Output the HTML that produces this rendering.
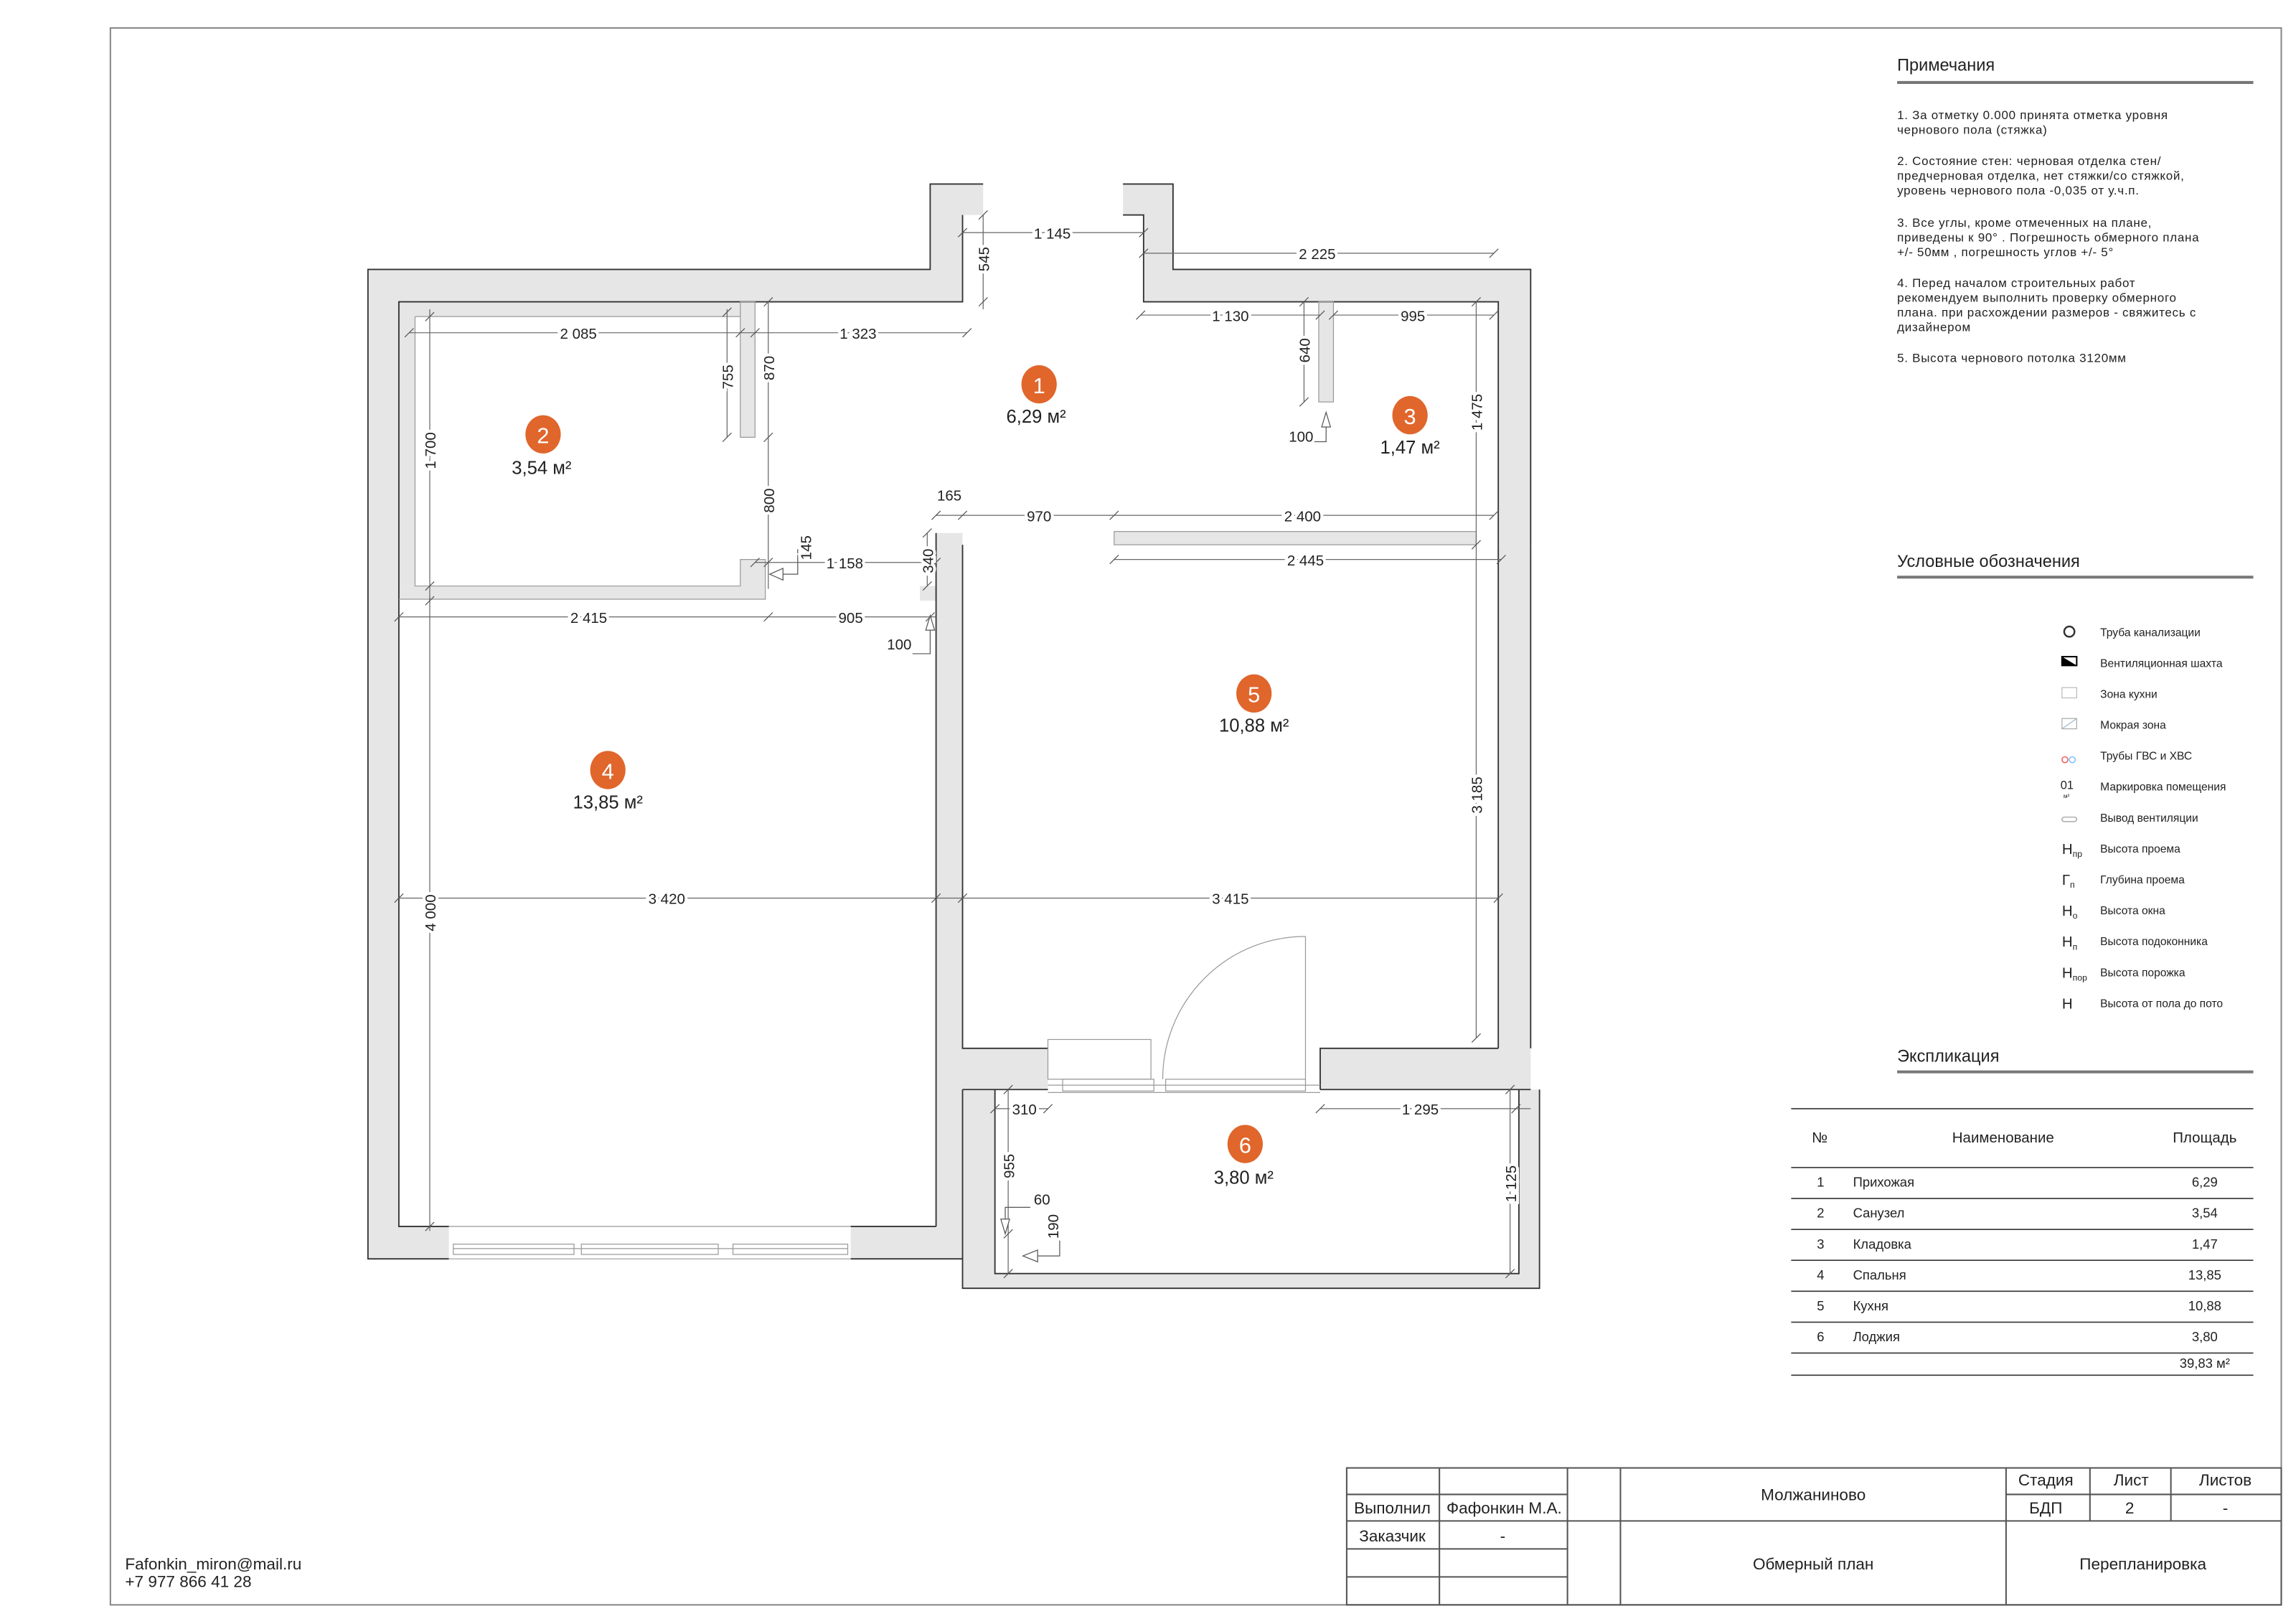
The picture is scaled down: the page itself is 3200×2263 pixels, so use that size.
<!DOCTYPE html>
<html><head><meta charset="utf-8"><style>
html,body{margin:0;padding:0;background:#fff}
svg{display:block}
text{font-family:"Liberation Sans","DejaVu Sans",sans-serif;fill:#222}
.d{stroke:#666;stroke-width:0.6;fill:none}
.t{stroke:#555;stroke-width:0.6}
.w{fill:#e6e6e6;stroke:none}
.o{stroke:#333;stroke-width:0.9;fill:none}
.dim{font-size:10px}
.n{font-size:8.3px;letter-spacing:0.35px}
.lg{font-size:7.6px}
</style></head><body>
<svg width="3200" height="2263" viewBox="0 0 1560 1103" preserveAspectRatio="none" xmlns="http://www.w3.org/2000/svg">
<rect x="75" y="19" width="1475" height="1071" fill="none" stroke="#888" stroke-width="1"/>

<polygon class="w" points="250,183 632,183 632,125 668,125 668,146 654,146 654,205 271,205 271,833 305,833 305,855 250,855"/>
<polygon class="w" points="763,125 797,125 797,183 1040,183 1040,712 1018,712 1018,205 777,205 777,146 763,146"/>
<rect class="w" x="636" y="362" width="18" height="471"/>
<rect class="w" x="578" y="833" width="76" height="22"/>
<polygon class="w" points="654,712 712,712 712,740 676,740 676,865 1032,865 1032,740 897,740 897,712 1040,712 1040,740 1046,740 1046,875 654,875"/>
<rect class="w" x="271" y="205" width="232" height="10"/>
<rect class="w" x="271" y="215" width="11" height="183"/>
<rect class="w" x="503" y="205" width="10" height="92"/>
<polygon class="w" points="271,398 503,398 503,380 520,380 520,407 271,407"/>
<rect class="w" x="625" y="398" width="11" height="10"/>
<rect class="w" x="757" y="361" width="246" height="9"/>
<rect class="w" x="896" y="205" width="10" height="68"/>
<polyline class="o" points="305,855 250,855 250,183 632,183 632,125 668,125"/>
<polyline class="o" points="654,146 654,205 271,205 271,833 305,833"/>
<polyline class="o" points="763,125 797,125 797,183 1040,183 1040,370"/>
<polyline class="o" points="763,146 777,146 777,205 1018,205 1018,370"/>
<line class="o" x1="1040" y1="370" x2="1040" y2="712"/>
<line class="o" x1="1018" y1="370" x2="1018" y2="712"/>
<polyline class="o" points="654,370 654,712 712,712"/>
<line class="o" x1="636" y1="362" x2="636" y2="833"/>
<polyline class="o" points="578,833 636,833"/>
<polyline class="o" points="578,855 654,855 654,875 1046,875 1046,740"/>
<polyline class="o" points="676,740 676,865 1032,865 1032,740"/>
<line class="o" x1="654" y1="740" x2="712" y2="740"/>
<line class="o" x1="897" y1="740" x2="1040" y2="740"/>
<polyline class="o" points="897,740 897,712 1018,712"/>
<line class="o" x1="654" y1="740" x2="654" y2="855"/>
<g stroke="#999" stroke-width="0.6" fill="none">
<rect x="757" y="361" width="246" height="9"/>
<rect x="503" y="205" width="10" height="92"/>
<rect x="896" y="205" width="10" height="68"/>
<polyline points="282,215 503,215"/><polyline points="282,215 282,398 503,398 503,380 520,380 520,407 271,407"/>
<line x1="305" y1="833" x2="578" y2="833"/>
<rect x="308" y="845" width="82" height="7"/><rect x="395" y="845" width="93" height="7"/><rect x="498" y="845" width="78" height="7"/>
<line x1="308" y1="848" x2="576" y2="848"/><line x1="305" y1="855" x2="578" y2="855"/>
<rect x="712" y="706" width="70" height="27"/>
<rect x="722" y="733" width="62" height="8"/><rect x="792" y="733" width="95" height="8"/>
<line x1="712" y1="737" x2="897" y2="737"/><line x1="712" y1="742" x2="897" y2="742"/>
<line x1="887" y1="636" x2="887" y2="733"/>
<path d="M887,636 A97,97 0 0 0 790,733"/>
</g>

<g class="d">
<line x1="654" y1="158" x2="777" y2="158"/><line x1="777" y1="172" x2="1015" y2="172"/>
<line x1="775" y1="214" x2="897" y2="214"/><line x1="906" y1="214" x2="1015" y2="214"/>
<line x1="278" y1="226" x2="657" y2="226"/>
<line x1="636" y1="350" x2="1015" y2="350"/><line x1="757" y1="380" x2="1020" y2="380"/>
<line x1="513" y1="382" x2="636" y2="382"/>
<line x1="271" y1="419" x2="636" y2="419"/>
<line x1="271" y1="610" x2="1018" y2="610"/>
<line x1="676" y1="753" x2="712" y2="753"/><line x1="897" y1="753" x2="1040" y2="753"/>
<line x1="668" y1="146" x2="668" y2="210"/>
<line x1="494" y1="210" x2="494" y2="297"/>
<line x1="522" y1="205" x2="522" y2="400"/>
<line x1="292" y1="210" x2="292" y2="408"/>
<line x1="292" y1="405" x2="292" y2="836"/>
<line x1="886" y1="205" x2="886" y2="273"/>
<line x1="1003" y1="205" x2="1003" y2="705"/>
<line x1="630" y1="362" x2="630" y2="398"/>
<line x1="685" y1="740" x2="685" y2="865"/>
<line x1="1026" y1="740" x2="1026" y2="865"/>
</g>
<g class="t">
<path d="M651,161l6,-6M774,161l6,-6M774,175l6,-6M1012,175l6,-6M772,217l6,-6M894,217l6,-6M903,217l6,-6M1012,217l6,-6M275,229l6,-6M500,229l6,-6M510,229l6,-6M654,229l6,-6M633,353l6,-6M651,353l6,-6M754,353l6,-6M1012,353l6,-6M754,383l6,-6M1017,383l6,-6M510,385l6,-6M633,385l6,-6M268,422l6,-6M519,422l6,-6M629,422l6,-6M268,613l6,-6M633,613l6,-6M651,613l6,-6M1015,613l6,-6M673,756l6,-6M709,756l6,-6M894,756l6,-6M1027,756l6,-6"/>
<path d="M665,149l6,-6M665,208l6,-6M491,215l6,-6M491,300l6,-6M519,208l6,-6M519,300l6,-6M519,385l6,-6M289,218l6,-6M289,401l6,-6M289,411l6,-6M289,836l6,-6M883,208l6,-6M883,276l6,-6M1000,208l6,-6M1000,373l6,-6M1000,708l6,-6M627,365l6,-6M627,401l6,-6M682,743l6,-6M682,841l6,-6M682,868l6,-6M1023,743l6,-6M1023,868l6,-6"/>
<polyline fill="none" points="620,444 632,444 632,428"/><polygon fill="#fff" points="629,428 635,428 632,418"/>
<polyline fill="none" points="893,300 901,300 901,290"/><polygon fill="#fff" points="898,290 904,290 901,280"/>
<polyline fill="none" points="542,373 542,390 532,390"/><polygon fill="#fff" points="532,386 532,394 523,390"/>
<polyline fill="none" points="700,820 683,820 683,828"/><polygon fill="#fff" points="680,828 686,828 683,838"/>
<polyline fill="none" points="720,838 720,853 705,853"/><polygon fill="#fff" points="705,849 705,857 695,853"/>
</g>
<g class="dim" text-anchor="middle">
<text x="715" y="162" style="paint-order:stroke" stroke="#fff" stroke-width="4">1 145</text>
<text x="895" y="176" stroke="#fff" stroke-width="4" style="paint-order:stroke">2 225</text>
<text x="836" y="218" stroke="#fff" stroke-width="4" style="paint-order:stroke">1 130</text>
<text x="960" y="218" stroke="#fff" stroke-width="4" style="paint-order:stroke">995</text>
<text x="393" y="230" stroke="#fff" stroke-width="4" style="paint-order:stroke">2 085</text>
<text x="583" y="230" stroke="#fff" stroke-width="4" style="paint-order:stroke">1 323</text>
<text x="645" y="340">165</text>
<text x="706" y="354" stroke="#fff" stroke-width="4" style="paint-order:stroke">970</text>
<text x="885" y="354" stroke="#fff" stroke-width="4" style="paint-order:stroke">2 400</text>
<text x="887" y="384" stroke="#fff" stroke-width="4" style="paint-order:stroke">2 445</text>
<text x="574" y="386" stroke="#fff" stroke-width="4" style="paint-order:stroke">1 158</text>
<text x="400" y="423" stroke="#fff" stroke-width="4" style="paint-order:stroke">2 415</text>
<text x="578" y="423" stroke="#fff" stroke-width="4" style="paint-order:stroke">905</text>
<text x="611" y="441">100</text>
<text x="884" y="300">100</text>
<text x="453" y="614" stroke="#fff" stroke-width="4" style="paint-order:stroke">3 420</text>
<text x="836" y="614" stroke="#fff" stroke-width="4" style="paint-order:stroke">3 415</text>
<text x="696" y="757" stroke="#fff" stroke-width="4" style="paint-order:stroke">310</text>
<text x="965" y="757" stroke="#fff" stroke-width="4" style="paint-order:stroke">1 295</text>
<text x="708" y="818">60</text>
<g stroke="#fff" stroke-width="4" style="paint-order:stroke">
<text transform="translate(672,176) rotate(-90)">545</text>
<text transform="translate(498,256) rotate(-90)">755</text>
<text transform="translate(526,250) rotate(-90)">870</text>
<text transform="translate(526,340) rotate(-90)">800</text>
<text transform="translate(296,306) rotate(-90)">1 700</text>
<text transform="translate(296,620) rotate(-90)">4 000</text>
<text transform="translate(890,238) rotate(-90)">640</text>
<text transform="translate(1007,280) rotate(-90)">1 475</text>
<text transform="translate(1007,540) rotate(-90)">3 185</text>
<text transform="translate(634,381) rotate(-90)">340</text>
<text transform="translate(689,792) rotate(-90)">955</text>
<text transform="translate(1030,804) rotate(-90)">1 125</text>
<text transform="translate(551,372) rotate(-90)">145</text>
<text transform="translate(719,833) rotate(-90)">190</text>
</g>
</g>

<g fill="#e0662c">
<ellipse cx="706" cy="261" rx="12" ry="13"/><ellipse cx="369" cy="295" rx="12" ry="13"/><ellipse cx="958" cy="282" rx="12" ry="13"/>
<ellipse cx="413" cy="523" rx="12" ry="13"/><ellipse cx="852" cy="471" rx="12" ry="13"/><ellipse cx="846" cy="777" rx="12" ry="13"/>
</g>
<g text-anchor="middle" font-size="15">
<text x="706" y="267" style="fill:#fff">1</text><text x="369" y="301" style="fill:#fff">2</text><text x="958" y="288" style="fill:#fff">3</text>
<text x="413" y="529" style="fill:#fff">4</text><text x="852" y="477" style="fill:#fff">5</text><text x="846" y="783" style="fill:#fff">6</text>
</g>
<g text-anchor="middle" font-size="12.5">
<text x="704" y="287">6,29 м²</text><text x="368" y="322">3,54 м²</text><text x="958" y="308">1,47 м²</text>
<text x="413" y="549">13,85 м²</text><text x="852" y="497">10,88 м²</text><text x="845" y="804">3,80 м²</text>
</g>

<text x="1289" y="48" font-size="11.5">Примечания</text>
<line x1="1289" y1="56" x2="1531" y2="56" stroke="#777" stroke-width="2"/>
<g class="n">
<text x="1289" y="81">1. За отметку 0.000 принята отметка уровня</text>
<text x="1289" y="91">чернового пола (стяжка)</text>
<text x="1289" y="112">2. Состояние стен: черновая отделка стен/</text>
<text x="1289" y="122">предчерновая отделка, нет стяжки/со стяжкой,</text>
<text x="1289" y="132">уровень чернового пола -0,035 от у.ч.п.</text>
<text x="1289" y="154">3. Все углы, кроме отмеченных на плане,</text>
<text x="1289" y="164">приведены к 90° . Погрешность обмерного плана</text>
<text x="1289" y="174">+/- 50мм , погрешность углов +/- 5°</text>
<text x="1289" y="195">4. Перед началом строительных работ</text>
<text x="1289" y="205">рекомендуем выполнить проверку обмерного</text>
<text x="1289" y="215">плана. при расхождении размеров - свяжитесь с</text>
<text x="1289" y="225">дизайнером</text>
<text x="1289" y="246">5. Высота чернового потолка 3120мм</text>
</g>

<text x="1289" y="385" font-size="11.5">Условные обозначения</text>
<line x1="1289" y1="392" x2="1531" y2="392" stroke="#777" stroke-width="2"/>
<g class="lg">
<text x="1427" y="432">Труба канализации</text>
<text x="1427" y="453">Вентиляционная шахта</text>
<text x="1427" y="474">Зона кухни</text>
<text x="1427" y="495">Мокрая зона</text>
<text x="1427" y="516">Трубы ГВС и ХВС</text>
<text x="1427" y="537">Маркировка помещения</text>
<text x="1427" y="558">Вывод вентиляции</text>
<text x="1427" y="579">Высота проема</text>
<text x="1427" y="600">Глубина проема</text>
<text x="1427" y="621">Высота окна</text>
<text x="1427" y="642">Высота подоконника</text>
<text x="1427" y="663">Высота порожка</text>
<text x="1427" y="684">Высота от пола до пото</text>
</g>
<circle cx="1406" cy="429" r="3.5" fill="none" stroke="#333" stroke-width="1.2"/>
<rect x="1401" y="446" width="10" height="6" fill="none" stroke="#000"/><polygon points="1401,446 1401,452 1411,452" fill="#000"/>
<rect x="1401" y="467" width="10" height="7" fill="none" stroke="#bbb" stroke-width="0.6"/>
<rect x="1401" y="488" width="10" height="7" fill="none" stroke="#aaa" stroke-width="0.6"/><line x1="1401" y1="495" x2="1411" y2="488" stroke="#9bc" stroke-width="0.6"/>
<circle cx="1403" cy="516" r="2" fill="none" stroke="#e55" stroke-width="0.7"/><circle cx="1408" cy="516" r="2" fill="none" stroke="#7bf" stroke-width="0.7"/>
<text x="1400" y="536" font-size="8">01</text><text x="1402" y="542" font-size="4">м²</text>
<rect x="1401" y="555" width="10" height="3" rx="1.5" fill="none" stroke="#999" stroke-width="0.6"/>
<g font-size="10">
<text x="1401" y="580">H<tspan font-size="6" dy="2">пр</tspan></text>
<text x="1401" y="601">Г<tspan font-size="6" dy="2">п</tspan></text>
<text x="1401" y="622">H<tspan font-size="6" dy="2">о</tspan></text>
<text x="1401" y="643">H<tspan font-size="6" dy="2">п</tspan></text>
<text x="1401" y="664">H<tspan font-size="6" dy="2">пор</tspan></text>
<text x="1401" y="685">H</text>
</g>

<text x="1289" y="721" font-size="11.5">Экспликация</text>
<line x1="1289" y1="728" x2="1531" y2="728" stroke="#777" stroke-width="2"/>
<g stroke="#333" stroke-width="0.8">
<line x1="1217" y1="753" x2="1531" y2="753"/><line x1="1217" y1="793" x2="1531" y2="793"/>
<line x1="1217" y1="814" x2="1531" y2="814"/><line x1="1217" y1="835" x2="1531" y2="835"/>
<line x1="1217" y1="856" x2="1531" y2="856"/><line x1="1217" y1="877" x2="1531" y2="877"/>
<line x1="1217" y1="898" x2="1531" y2="898"/><line x1="1217" y1="919" x2="1531" y2="919"/>
<line x1="1217" y1="934" x2="1531" y2="934"/>
</g>
<g font-size="10"><text x="1231" y="776">№</text><text x="1361" y="776" text-anchor="middle">Наименование</text><text x="1498" y="776" text-anchor="middle">Площадь</text></g>
<g font-size="9">
<text x="1237" y="806" text-anchor="middle">1</text><text x="1259" y="806">Прихожая</text><text x="1498" y="806" text-anchor="middle">6,29</text>
<text x="1237" y="827" text-anchor="middle">2</text><text x="1259" y="827">Санузел</text><text x="1498" y="827" text-anchor="middle">3,54</text>
<text x="1237" y="848" text-anchor="middle">3</text><text x="1259" y="848">Кладовка</text><text x="1498" y="848" text-anchor="middle">1,47</text>
<text x="1237" y="869" text-anchor="middle">4</text><text x="1259" y="869">Спальня</text><text x="1498" y="869" text-anchor="middle">13,85</text>
<text x="1237" y="890" text-anchor="middle">5</text><text x="1259" y="890">Кухня</text><text x="1498" y="890" text-anchor="middle">10,88</text>
<text x="1237" y="911" text-anchor="middle">6</text><text x="1259" y="911">Лоджия</text><text x="1498" y="911" text-anchor="middle">3,80</text>
<text x="1498" y="929" text-anchor="middle">39,83 м²</text>
</g>

<g stroke="#555" stroke-width="1" fill="none">
<rect x="915" y="997" width="635" height="93"/>
<line x1="978" y1="997" x2="978" y2="1090"/><line x1="1065" y1="997" x2="1065" y2="1090"/>
<line x1="1101" y1="997" x2="1101" y2="1090"/><line x1="1363" y1="997" x2="1363" y2="1090"/>
<line x1="1420" y1="997" x2="1420" y2="1033"/><line x1="1475" y1="997" x2="1475" y2="1033"/>
<line x1="915" y1="1015" x2="1065" y2="1015"/><line x1="1363" y1="1015" x2="1550" y2="1015"/>
<line x1="915" y1="1033" x2="1550" y2="1033"/>
<line x1="915" y1="1052" x2="1065" y2="1052"/><line x1="915" y1="1071" x2="1065" y2="1071"/>
</g>
<g font-size="11" text-anchor="middle">
<text x="946" y="1028">Выполнил</text><text x="1022" y="1028">Фафонкин М.А.</text>
<text x="946" y="1047">Заказчик</text><text x="1021" y="1047">-</text>
<text x="1232" y="1019">Молжаниново</text><text x="1232" y="1066">Обмерный план</text>
<text x="1390" y="1009">Стадия</text><text x="1448" y="1009">Лист</text><text x="1512" y="1009">Листов</text>
<text x="1390" y="1028">БДП</text><text x="1447" y="1028">2</text><text x="1512" y="1028">-</text>
<text x="1456" y="1066">Перепланировка</text>
</g>
<g font-size="11"><text x="85" y="1066">Fafonkin_miron@mail.ru</text><text x="85" y="1078">+7 977 866 41 28</text></g>
</svg>
</body></html>
